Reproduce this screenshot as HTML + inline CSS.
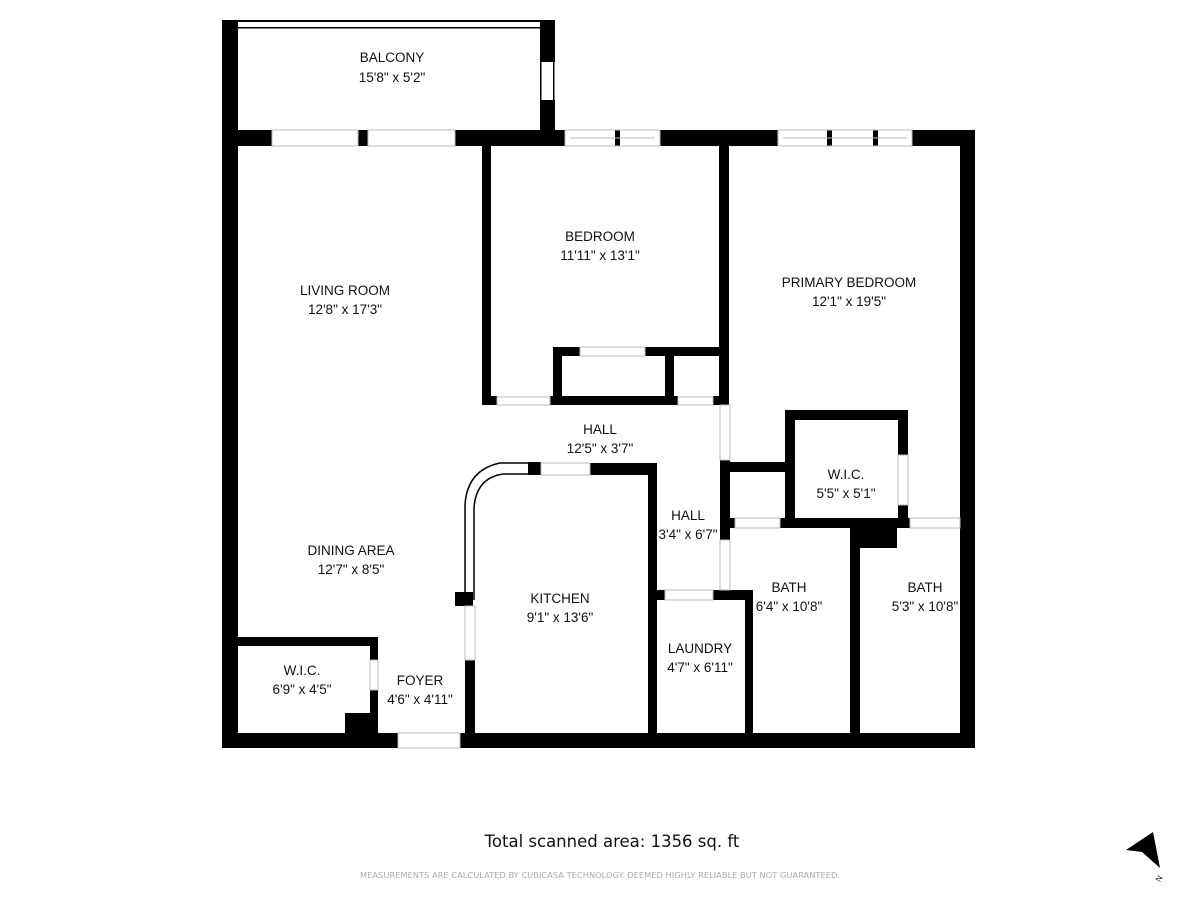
<!DOCTYPE html>
<html><head><meta charset="utf-8"><style>
html,body{margin:0;padding:0;background:#fff;}
svg{display:block;}
text{font-family:"Liberation Sans",sans-serif;font-size:13.5px;fill:#111;text-anchor:middle;}
</style></head><body>
<svg width="1200" height="900" viewBox="0 0 1200 900" xmlns="http://www.w3.org/2000/svg">
<rect width="1200" height="900" fill="#fff"/>
<g fill="#000">
<rect x="222" y="20" width="16" height="126"/>
<rect x="238" y="20" width="317" height="2"/>
<rect x="238" y="27" width="302" height="1.5"/>
<rect x="540" y="20" width="15" height="42"/>
<rect x="540" y="100" width="15" height="46"/>
<rect x="540" y="62" width="1.5" height="38"/><rect x="553" y="62" width="1.5" height="38"/>
<rect x="222" y="130" width="50" height="16"/>
<rect x="358" y="130" width="10" height="16"/>
<rect x="455" y="130" width="110" height="16"/>
<rect x="615" y="130" width="5" height="16"/>
<rect x="660" y="130" width="118" height="16"/>
<rect x="827" y="130" width="5" height="16"/>
<rect x="873" y="130" width="5" height="16"/>
<rect x="912" y="130" width="63" height="16"/>
<rect x="222" y="130" width="16" height="618"/>
<rect x="960" y="130" width="15" height="618"/>
<rect x="222" y="733" width="176" height="15"/>
<rect x="460" y="733" width="515" height="15"/>
<rect x="482" y="146" width="9" height="259"/>
<rect x="719" y="146" width="10" height="259"/>
<rect x="482" y="396" width="15" height="9"/>
<rect x="550" y="396" width="128" height="9"/>
<rect x="713" y="396" width="16" height="9"/>
<rect x="553" y="347" width="27" height="9"/>
<rect x="645" y="347" width="75" height="9"/>
<rect x="553" y="347" width="9" height="55"/>
<rect x="665" y="347" width="9" height="55"/>
<rect x="528" y="462" width="13" height="13"/>
<rect x="590" y="463" width="67" height="12"/>
<rect x="648" y="463" width="9" height="285"/>
<rect x="455" y="592" width="18" height="14"/>
<rect x="465" y="660" width="10" height="80"/>
<rect x="720" y="460" width="10" height="80"/>
<rect x="648" y="590" width="17" height="10"/>
<rect x="713" y="590" width="40" height="10"/>
<rect x="745" y="590" width="8" height="150"/>
<rect x="727" y="462" width="60" height="10"/>
<rect x="785" y="410" width="123" height="10"/>
<rect x="785" y="410" width="10" height="115"/>
<rect x="898" y="410" width="10" height="45"/>
<rect x="898" y="505" width="10" height="22"/>
<rect x="780" y="518" width="130" height="10"/>
<rect x="727" y="518" width="8" height="10"/>
<rect x="850" y="520" width="47" height="28"/>
<rect x="850" y="520" width="10" height="220"/>
<rect x="222" y="637" width="156" height="9"/>
<rect x="370" y="637" width="8" height="23"/>
<rect x="370" y="690" width="8" height="45"/>
<rect x="345" y="713" width="33" height="22"/>
</g>
<g stroke="#bbb" stroke-width="1" fill="none">
<rect x="272" y="130" width="86" height="16"/><rect x="368" y="130" width="87" height="16"/>
<rect x="565" y="130" width="95" height="16"/><rect x="778" y="130" width="134" height="16"/>
<line x1="570" y1="138" x2="655" y2="138"/><line x1="783" y1="138" x2="907" y2="138"/>
<rect x="497" y="397" width="53" height="8"/><rect x="678" y="397" width="35" height="8"/>
<rect x="580" y="347" width="65" height="9"/>
<rect x="541" y="463" width="49" height="12"/>
<rect x="665" y="590" width="48" height="10"/>
<rect x="398" y="733" width="62" height="15"/>
<rect x="465" y="606" width="10" height="54"/>
<rect x="370" y="660" width="8" height="30"/>
<rect x="735" y="518" width="45" height="10"/><rect x="910" y="518" width="50" height="10"/>
<rect x="898" y="455" width="10" height="50"/>
<rect x="720" y="405" width="10" height="55"/><rect x="720" y="540" width="10" height="50"/>
</g>
<path d="M465,600 L465,505 Q467,470 500,463 L528,463" stroke="#000" stroke-width="1.5" fill="none"/>
<path d="M474,600 L474,508 Q476,478 503,474 L528,474" stroke="#000" stroke-width="1.5" fill="none"/>
<text x="392" y="62">BALCONY</text><text x="392" y="82">15'8" x 5'2"</text>
<text x="600" y="241">BEDROOM</text><text x="600" y="260">11'11" x 13'1"</text>
<text x="345" y="295">LIVING ROOM</text><text x="345" y="314">12'8" x 17'3"</text>
<text x="849" y="287">PRIMARY BEDROOM</text><text x="849" y="306">12'1" x 19'5"</text>
<text x="600" y="434">HALL</text><text x="600" y="453">12'5" x 3'7"</text>
<text x="846" y="479">W.I.C.</text><text x="846" y="498">5'5" x 5'1"</text>
<text x="688" y="520">HALL</text><text x="688" y="539">3'4" x 6'7"</text>
<text x="351" y="555">DINING AREA</text><text x="351" y="574">12'7" x 8'5"</text>
<text x="789" y="592">BATH</text><text x="789" y="611">6'4" x 10'8"</text>
<text x="925" y="592">BATH</text><text x="925" y="611">5'3" x 10'8"</text>
<text x="560" y="603">KITCHEN</text><text x="560" y="622">9'1" x 13'6"</text>
<text x="700" y="653">LAUNDRY</text><text x="700" y="672">4'7" x 6'11"</text>
<text x="302" y="675">W.I.C.</text><text x="302" y="694">6'9" x 4'5"</text>
<text x="420" y="685">FOYER</text><text x="420" y="704">4'6" x 4'11"</text>
<text x="612" y="847" style="font-family:'DejaVu Sans',sans-serif;font-size:16.5px">Total scanned area: 1356 sq. ft</text>
<text x="600" y="878" style="font-family:'DejaVu Sans',sans-serif;font-size:8.3px;fill:#aaa">MEASUREMENTS ARE CALCULATED BY CUBICASA TECHNOLOGY. DEEMED HIGHLY RELIABLE BUT NOT GUARANTEED.</text>
<polygon points="1153,832 1126,850 1142,852 1160,868" fill="#000"/>
<text x="1158" y="882" style="font-size:8px" transform="rotate(-60 1158 878)">N</text>
</svg>
</body></html>
